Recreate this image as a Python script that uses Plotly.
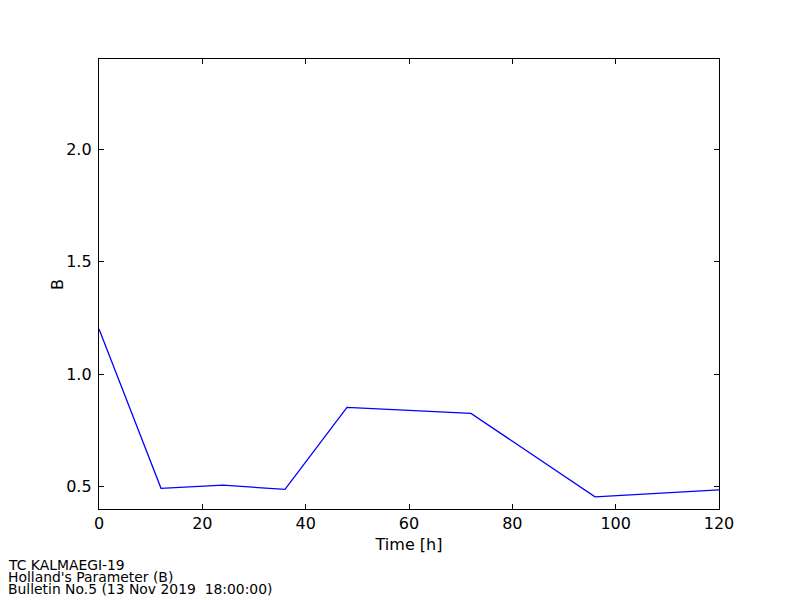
import plotly.graph_objects as go

hours = [0, 12, 24, 36, 48, 72, 96, 120]
b_values = [1.20, 0.492, 0.506, 0.487, 0.852, 0.825, 0.454, 0.485]
x_ticks = [0, 20, 40, 60, 80, 100, 120]
y_ticks = [0.5, 1.0, 1.5, 2.0]
info_lines = ["TC KALMAEGI-19", "Holland's Parameter (B)", "Bulletin No.5 (13 Nov 2019  18:00:00)"]

font_family = "DejaVu Sans"

fig = go.Figure()
fig.add_trace(go.Scatter(x=hours, y=b_values, mode="lines",
                         line=dict(color="#0000ff", width=1.3),
                         showlegend=False, hoverinfo="skip"))

axis_common = dict(showline=True, linecolor="black", linewidth=1.3, mirror="allticks",
                   ticks="inside", ticklen=5, tickwidth=1, tickcolor="black",
                   showgrid=False, zeroline=False,
                   tickfont=dict(family=font_family, size=16, color="black"))

fig.update_xaxes(range=[0, 120], tickvals=x_ticks, ticktext=[str(v) for v in x_ticks],
                 ticklabelstandoff=0,
                 title=dict(text="Time [h]", font=dict(family=font_family, size=16, color="black"), standoff=6),
                 **axis_common)
fig.update_yaxes(range=[0.4, 2.4], tickvals=y_ticks, ticktext=[f"{v:.1f}" for v in y_ticks],
                 ticklabelstandoff=3,
                 **axis_common)

fig.add_annotation(text="B", xref="paper", yref="paper",
                   x=(57 - 99) / 620, y=0.5, textangle=-90,
                   xanchor="center", yanchor="middle", showarrow=False,
                   font=dict(family=font_family, size=16, color="black"))

line_y = [564.5, 576.5, 588.5]
for txt, py in zip(info_lines, line_y):
    fig.add_annotation(text=txt, xref="paper", yref="paper",
                       x=(6 - 99) / 620, y=(509 - py) / 450,
                       xanchor="left", yanchor="middle", showarrow=False,
                       font=dict(family=font_family, size=13.9, color="black"))

fig.update_layout(width=800, height=600,
                  margin=dict(l=99, r=81, t=59, b=91, autoexpand=False),
                  paper_bgcolor="white", plot_bgcolor="white",
                  font=dict(family=font_family, color="black"))

fig.write_html("out.html", config={"displayModeBar": False},
               post_script="document.body.style.margin='0';document.body.style.overflow='hidden';")
